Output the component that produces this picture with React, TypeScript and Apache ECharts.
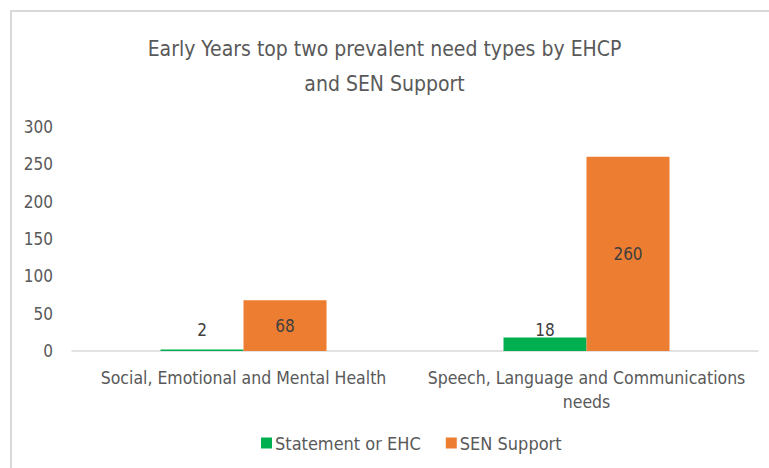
import React, { useEffect, useRef } from "react";
import * as echarts from "echarts";

const categories = ["Social, Emotional and Mental Health", "Speech, Language and Communications\nneeds"];
const seriesNames = ["Statement or EHC", "SEN Support"];
const statementValues = [2, 18];
const senSupportValues = [68, 260];
const yTicks = { min: 0, max: 300, interval: 50 };

const FONT = "'DejaVu Sans Condensed', 'Liberation Sans Narrow', 'Open Sans', sans-serif";

export default function App() {
  const ref = useRef<HTMLDivElement>(null);
  useEffect(() => {
    if (!ref.current) return;
    const chart = echarts.init(ref.current, undefined, { renderer: "svg" });
    chart.setOption({
      animation: false,
      backgroundColor: "#ffffff",
      textStyle: { fontFamily: FONT },
      title: {
        text: "Early Years top two prevalent need types by EHCP\nand SEN Support",
        left: "center",
        top: 26,
        textStyle: { fontFamily: FONT, fontSize: 21, fontWeight: "normal", color: "#595959", lineHeight: 35 },
      },
      graphic: [
        {
          type: "rect",
          shape: { x: 11, y: 11, width: 800, height: 500 },
          style: { fill: "none", stroke: "#D9D9D9", lineWidth: 2 },
          silent: true,
        },
      ],
      legend: {
        data: seriesNames,
        bottom: 11,
        left: 256,
        itemWidth: 11,
        itemHeight: 11,
        itemGap: 25,
        icon: "rect",
        textStyle: { fontFamily: FONT, fontSize: 18, color: "#595959", padding: [0, 0, 0, -2] },
      },
      grid: { left: 72, right: 11, top: 127, bottom: 117, containLabel: false },
      xAxis: {
        type: "category",
        data: categories,
        axisLine: { show: true, lineStyle: { color: "#D9D9D9", width: 1.5 } },
        axisTick: { show: false },
        axisLabel: { interval: 0, fontFamily: FONT, fontSize: 17.5, color: "#595959", margin: 15, lineHeight: 24 },
      },
      yAxis: {
        type: "value",
        min: yTicks.min,
        max: yTicks.max,
        interval: yTicks.interval,
        axisLine: { show: false },
        axisTick: { show: false },
        splitLine: { show: false },
        axisLabel: { fontFamily: FONT, fontSize: 17, color: "#595959", margin: 19 },
      },
      series: [
        {
          name: seriesNames[0],
          type: "bar",
          data: statementValues,
          itemStyle: { color: "#00B050" },
          barWidth: 83,
          barGap: "0%",
          label: {
            show: true,
            position: "insideBottom",
            distance: 13,
            fontFamily: FONT,
            fontSize: 17,
            color: "#404040",
          },
        },
        {
          name: seriesNames[1],
          type: "bar",
          data: senSupportValues,
          itemStyle: { color: "#ED7D31" },
          barWidth: 83,
          barGap: "0%",
          label: {
            show: true,
            position: "inside",
            fontFamily: FONT,
            fontSize: 17,
            color: "#404040",
          },
        },
      ],
    });
    return () => chart.dispose();
  }, []);
  return (
    <div
      ref={ref}
      style={{ position: "absolute", left: 0, top: 0, width: 769, height: 468 }}
    />
  );
}
